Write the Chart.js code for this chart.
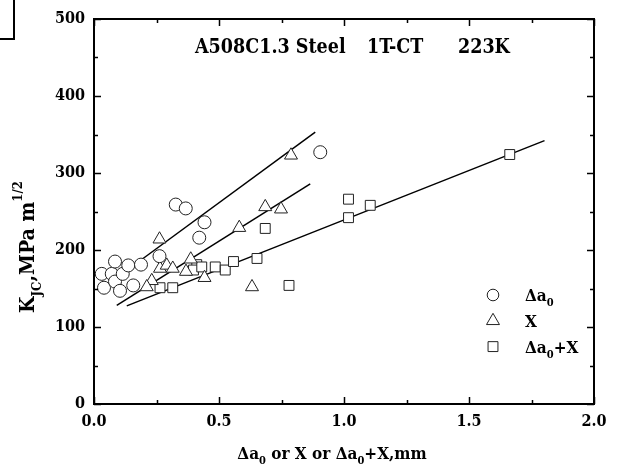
<!DOCTYPE html>
<html>
<head>
<meta charset="utf-8">
<script src="https://cdn.jsdelivr.net/npm/chart.js@4/dist/chart.umd.min.js"></script>
<style>
html, body { margin: 0; padding: 0; background: #fff; }
#wrap { position: relative; width: 642px; height: 471px; }
#corner { position: absolute; left: 0; top: 0; width: 13px; height: 38px; border-right: 2px solid #000; border-bottom: 2px solid #000; }
</style>
</head>
<body>
<div id="wrap">
    <div id="corner"></div>
    <canvas id="canvas" width="642" height="471"></canvas>
</div>
<script>
// values: [mm, K_JC]
const deltaA0 = [
    [0.031, 169], [0.040, 151], [0.071, 169], [0.084, 185], [0.084, 159],
    [0.104, 147], [0.115, 169], [0.137, 180], [0.157, 154], [0.188, 181],
    [0.262, 192], [0.327, 259], [0.367, 254], [0.442, 236], [0.421, 216],
    [0.905, 327]
];
const stretchX = [
    [0.262, 214], [0.231, 160], [0.211, 152], [0.264, 176], [0.291, 180],
    [0.315, 176], [0.368, 172], [0.387, 188], [0.442, 164], [0.581, 229],
    [0.685, 256], [0.748, 253], [0.632, 152], [0.788, 323]
];
const deltaA0PlusX = [
    [0.264, 151], [0.315, 151], [0.411, 181], [0.398, 174], [0.431, 178],
    [0.485, 178], [0.525, 174], [0.558, 185], [0.652, 189], [0.685, 228],
    [0.780, 154], [1.018, 266], [1.018, 242], [1.105, 258], [1.663, 324]
];
// fitted lines, end points
const fitDeltaA0 = [[0.188, 187], [0.885, 353]];
const fitX = [[0.091, 128], [0.865, 286]];
const fitDeltaA0PlusX = [[0.131, 127.5], [1.802, 342]];

const xTicks = [0, 0.5, 1.0, 1.5, 2.0];
const yTicks = [0, 100, 200, 300, 400, 500];

const FONT = '"DejaVu Serif Condensed", "DejaVu Serif", serif';
const INK = '#000';

const toPoints = (arr) => arr.map(([x, y]) => ({ x, y }));

// text with sub / superscripts
const drawRich = (ctx, parts, x, y, size, align) => {
    const small = Math.round(size * 0.62);
    let total = 0;
    parts.forEach(([t, kind]) => {
        ctx.font = `bold ${kind ? small : size}px ${FONT}`;
        total += ctx.measureText(t).width;
    });
    let cx = align === 'center' ? x - total / 2 : x;
    ctx.textAlign = 'left';
    ctx.textBaseline = 'alphabetic';
    parts.forEach(([t, kind]) => {
        ctx.font = `bold ${kind ? small : size}px ${FONT}`;
        let dy = 0;
        if (kind === 'sub') dy = size * 0.32;
        if (kind === 'sup') dy = -size * 0.55;
        ctx.fillText(t, cx, y + dy);
        cx += ctx.measureText(t).width;
    });
};

const framePlugin = {
    id: 'frame',
    afterDraw(chart) {
        const { ctx, chartArea: a, scales: { x, y } } = chart;
        ctx.save();
        ctx.strokeStyle = INK;
        ctx.fillStyle = INK;

        ctx.lineWidth = 2;
        ctx.strokeRect(a.left, a.top, a.right - a.left, a.bottom - a.top);

        ctx.lineWidth = 1.5;
        ctx.beginPath();
        for (let v = 0; v <= 500; v += 50) {
            const len = v % 100 === 0 ? 7 : 4;
            const py = Math.round(y.getPixelForValue(v)) + 0.5;
            ctx.moveTo(a.left, py); ctx.lineTo(a.left + len, py);
            ctx.moveTo(a.right, py); ctx.lineTo(a.right - len, py);
        }
        for (let v = 0; v <= 2.0001; v += 0.25) {
            const len = Math.abs(v * 2 - Math.round(v * 2)) < 1e-6 ? 7 : 4;
            const px = Math.round(x.getPixelForValue(v)) + 0.5;
            ctx.moveTo(px, a.bottom); ctx.lineTo(px, a.bottom - len);
            ctx.moveTo(px, a.top); ctx.lineTo(px, a.top + len);
        }
        ctx.stroke();

        // title
        ctx.font = `bold 19.5px ${FONT}`;
        ctx.textAlign = 'left';
        ctx.textBaseline = 'alphabetic';
        ctx.fillText('A508C1.3 Steel', 195, 53);
        ctx.fillText('1T-CT', 367, 53);
        ctx.fillText('223K', 458, 53);

        // axis titles
        drawRich(ctx, [['\u0394a', ''], ['0', 'sub'], [' or X or \u0394a', ''], ['0', 'sub'], ['+X,mm', '']],
            (a.left + a.right) / 2 - 12, 459, 17, 'center');

        ctx.save();
        ctx.translate(34, 247);
        ctx.rotate(-Math.PI / 2);
        drawRich(ctx, [['K', ''], ['JC', 'sub'], [',MPa m', ''], ['1/2', 'sup']], 0, 0, 21, 'center');
        ctx.restore();

        // legend
        const items = [
            { style: 'circle', r: 5.8, label: [['\u0394a', ''], ['0', 'sub']] },
            { style: 'triangle', r: 7.5, label: [['X', '']] },
            { style: 'rect', r: 7, label: [['\u0394a', ''], ['0', 'sub'], ['+X', '']] }
        ];
        items.forEach((it, i) => {
            const cy = 295 + i * 25.8;
            ctx.fillStyle = '#fff';
            ctx.strokeStyle = '#222';
            ctx.lineWidth = 1;
            Chart.helpers.drawPoint(ctx, { pointStyle: it.style, radius: it.r, borderWidth: 1, rotation: 0 }, 493, cy);
            ctx.fillStyle = INK;
            drawRich(ctx, it.label, 525, cy + 6, 17, 'left');
        });
        ctx.restore();
    }
};

const markerSet = (label, arr, style, r) => ({
    type: 'scatter',
    label,
    data: toPoints(arr),
    pointStyle: style,
    pointRadius: r,
    pointBackgroundColor: '#fff',
    pointBorderColor: '#222',
    pointBorderWidth: 1,
    showLine: false
});

const lineSet = (label, arr) => ({
    type: 'line',
    label,
    data: toPoints(arr),
    borderColor: INK,
    borderWidth: 1.5,
    pointRadius: 0,
    fill: false,
    tension: 0
});

new Chart(document.getElementById('canvas'), {
    type: 'scatter',
    data: {
        datasets: [
            markerSet('\u0394a0', deltaA0, 'circle', 6.5),
            markerSet('X', stretchX, 'triangle', 7.5),
            markerSet('\u0394a0+X', deltaA0PlusX, 'rect', 7),
            lineSet('fit \u0394a0', fitDeltaA0),
            lineSet('fit X', fitX),
            lineSet('fit \u0394a0+X', fitDeltaA0PlusX)
        ]
    },
    plugins: [framePlugin],
    options: {
        responsive: false,
        animation: false,
        layout: { padding: { left: 0, right: 48, top: 19, bottom: 0 } },
        plugins: {
            legend: { display: false },
            tooltip: { enabled: false },
            title: { display: false }
        },
        scales: {
            x: {
                type: 'linear',
                min: 0,
                max: 2,
                afterFit: (s) => { s.height = 67; },
                afterBuildTicks: (s) => { s.ticks = xTicks.map(v => ({ value: v })); },
                grid: { display: false, drawTicks: false },
                border: { display: false },
                ticks: {
                    padding: 8,
                    color: INK,
                    font: { family: FONT, size: 16, weight: 'bold' },
                    callback: (v) => v.toFixed(1)
                }
            },
            y: {
                type: 'linear',
                min: 0,
                max: 500,
                afterFit: (s) => { s.width = 94; },
                afterBuildTicks: (s) => { s.ticks = yTicks.map(v => ({ value: v })); },
                grid: { display: false, drawTicks: false },
                border: { display: false },
                ticks: {
                    padding: 9,
                    color: INK,
                    font: { family: FONT, size: 16, weight: 'bold' },
                    callback: (v) => String(v)
                }
            }
        }
    }
});
</script>
</body>
</html>
